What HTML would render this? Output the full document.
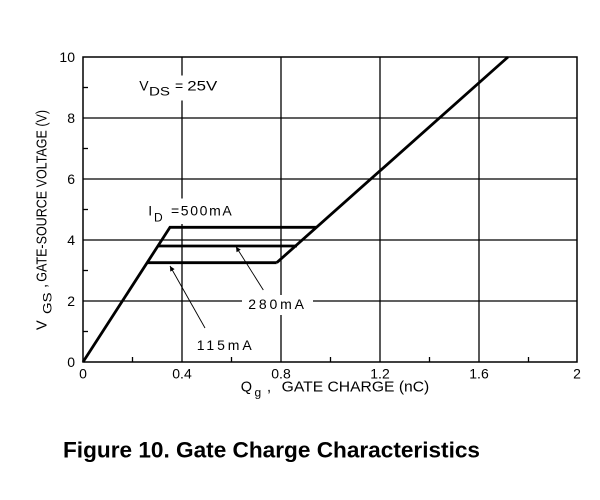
<!DOCTYPE html>
<html>
<head>
<meta charset="utf-8">
<style>
html,body{margin:0;padding:0;background:#fff;}
svg{display:block;}
text{font-family:"Liberation Sans",Arial,sans-serif;fill:#000;}
</style>
</head>
<body>
<svg width="600" height="500" viewBox="0 0 600 500" xmlns="http://www.w3.org/2000/svg">
<defs>
<marker id="ah" viewBox="0 0 10 10" refX="10" refY="5" markerWidth="7" markerHeight="5" markerUnits="userSpaceOnUse" orient="auto">
<path d="M0,0 L10,5 L0,10 z" fill="#000"/>
</marker>
</defs>
<rect x="0" y="0" width="600" height="500" fill="#fff"/>
<!-- grid -->
<g stroke="#000" stroke-width="1.3" fill="none">
<line x1="182" y1="57" x2="182" y2="362"/>
<line x1="281" y1="57" x2="281" y2="362"/>
<line x1="380" y1="57" x2="380" y2="362"/>
<line x1="479" y1="57" x2="479" y2="362"/>
<line x1="83" y1="301" x2="577" y2="301"/>
<line x1="83" y1="240" x2="577" y2="240"/>
<line x1="83" y1="179" x2="577" y2="179"/>
<line x1="83" y1="118" x2="577" y2="118"/>
<!-- minor ticks -->
<line x1="83" y1="331.5" x2="88" y2="331.5"/>
<line x1="83" y1="270.5" x2="88" y2="270.5"/>
<line x1="83" y1="209.5" x2="88" y2="209.5"/>
<line x1="83" y1="148.5" x2="88" y2="148.5"/>
<line x1="83" y1="87.5" x2="88" y2="87.5"/>
<line x1="132.5" y1="362" x2="132.5" y2="357"/>
<line x1="231.5" y1="362" x2="231.5" y2="357"/>
<line x1="330.5" y1="362" x2="330.5" y2="357"/>
<line x1="429.5" y1="362" x2="429.5" y2="357"/>
<line x1="528.5" y1="362" x2="528.5" y2="357"/>
</g>
<!-- label backgrounds -->
<rect x="137" y="75.5" width="82" height="25" fill="#fff"/>
<rect x="145" y="198.5" width="88" height="25.5" fill="#fff"/>
<rect x="242" y="295" width="71" height="20" fill="#fff"/>
<!-- border -->
<rect x="83" y="57" width="494" height="305" fill="none" stroke="#000" stroke-width="1.5"/>
<!-- curves -->
<g stroke="#000" stroke-width="2.8" fill="none" stroke-linejoin="miter">
<polyline points="83,362 170,227.3 316,227.3"/>
<line x1="276.7" y1="262.7" x2="508" y2="57"/>
<line x1="158" y1="246" x2="297" y2="246"/>
<line x1="146.5" y1="262.7" x2="276.7" y2="262.7"/>
</g>
<!-- arrows -->
<g stroke="#000" stroke-width="0.9" fill="none">
<line x1="263.3" y1="290" x2="236" y2="246.7" marker-end="url(#ah)"/>
<line x1="205" y1="328" x2="170" y2="266" marker-end="url(#ah)"/>
</g>
<!-- annotations -->
<text x="139.3" y="90.7" font-size="14">V</text>
<text x="149" y="95.5" font-size="12" textLength="21" lengthAdjust="spacingAndGlyphs">DS</text>
<text x="175" y="90.7" font-size="14">=</text>
<text x="187.3" y="90.7" font-size="14" textLength="30" lengthAdjust="spacingAndGlyphs">25V</text>
<text x="148.3" y="215.7" font-size="14">I</text>
<text x="154" y="221.5" font-size="12">D</text>
<text x="171" y="215.7" font-size="14" textLength="60.7" lengthAdjust="spacing">=500mA</text>
<text x="248.3" y="309" font-size="14" textLength="55.7" lengthAdjust="spacing">280mA</text>
<text x="196.7" y="350" font-size="14" textLength="55" lengthAdjust="spacing">115mA</text>
<!-- y tick labels -->
<g font-size="14" text-anchor="end">
<text x="75" y="62">10</text>
<text x="75" y="123">8</text>
<text x="75" y="184">6</text>
<text x="75" y="245">4</text>
<text x="75" y="306">2</text>
<text x="75" y="367">0</text>
</g>
<!-- x tick labels -->
<g font-size="14" text-anchor="middle">
<text x="83" y="378.7">0</text>
<text x="182" y="378.7">0.4</text>
<text x="281" y="378.7">0.8</text>
<text x="380" y="378.7">1.2</text>
<text x="479" y="378.7">1.6</text>
<text x="577" y="378.7">2</text>
</g>
<!-- x axis title -->
<text x="240.7" y="391.7" font-size="14.5">Q</text>
<text x="254.5" y="396.5" font-size="12">g</text>
<text x="267" y="391.7" font-size="14.5">,</text>
<text x="281.7" y="391.7" font-size="14.5" textLength="147.6" lengthAdjust="spacingAndGlyphs">GATE CHARGE (nC)</text>
<!-- y axis title -->
<g transform="translate(46.7,330) rotate(-90)">
<text x="0" y="0" font-size="14.5">V</text>
<text x="16" y="5" font-size="12" textLength="21.5" lengthAdjust="spacingAndGlyphs">GS</text>
<text x="42" y="0" font-size="14.5">,</text>
<text x="48.3" y="0" font-size="14.5" textLength="171.7" lengthAdjust="spacingAndGlyphs">GATE-SOURCE VOLTAGE (V)</text>
</g>
<!-- figure title -->
<text x="63" y="457.5" font-size="22.5" font-weight="bold" textLength="417" lengthAdjust="spacingAndGlyphs">Figure 10. Gate Charge Characteristics</text>
</svg>
</body>
</html>
